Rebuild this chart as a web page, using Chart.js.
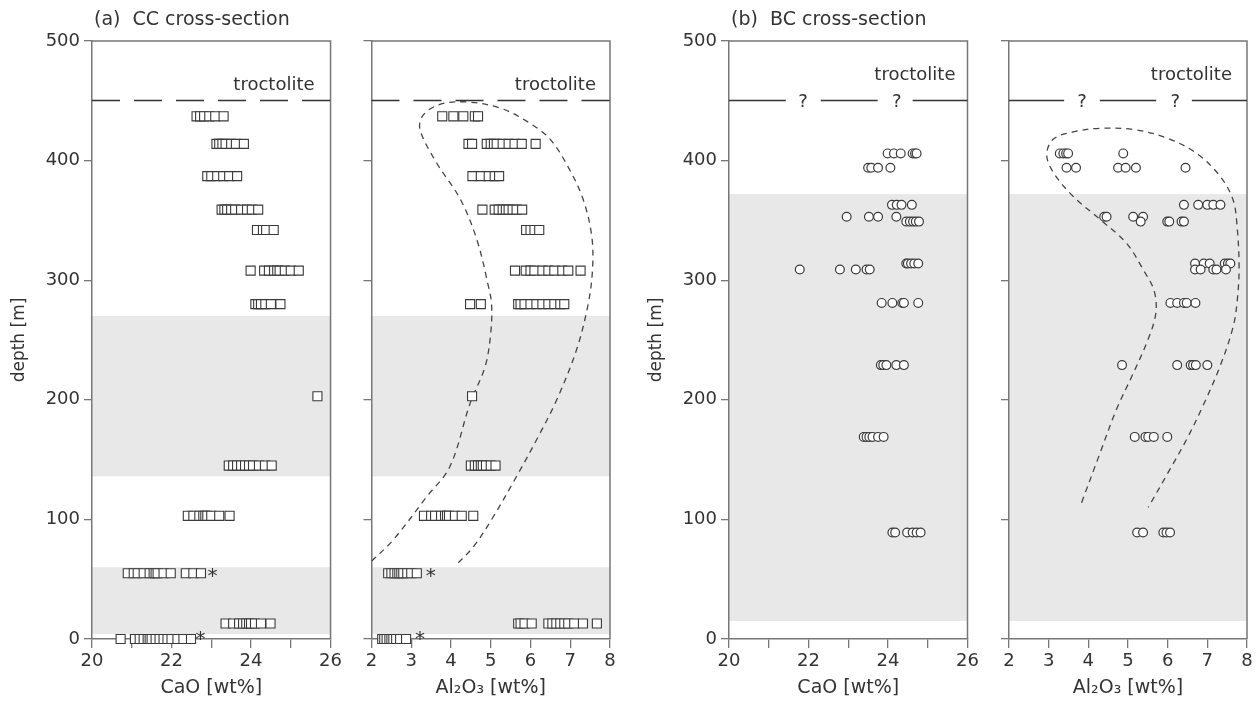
<!DOCTYPE html>
<html><head><meta charset="utf-8">
<script src="https://cdn.jsdelivr.net/npm/chart.js@4.4.1/dist/chart.umd.min.js"></script>
<style>
html,body{margin:0;padding:0;background:#fff;width:1259px;height:701px;overflow:hidden}
canvas{position:absolute;top:0}
</style></head><body>
<canvas id="c1" width="345" height="701" style="left:0px"></canvas>
<canvas id="c2" width="277" height="701" style="left:345px"></canvas>
<canvas id="c3" width="345" height="701" style="left:637px"></canvas>
<canvas id="c4" width="274" height="701" style="left:985px"></canvas>
<script>
// ---------- DATA ----------
const depthTicks = [0, 100, 200, 300, 400, 500];
const caoTicks = [20, 21, 22, 23, 24, 25, 26];
const caoTickLabels = ['20', '', '22', '', '24', '', '26'];
const alTicks = [2, 3, 4, 5, 6, 7, 8];
const alTickLabels = ['2', '3', '4', '5', '6', '7', '8'];

// CC cross-section (squares)
const ccDepths = [437, 414, 387, 359, 342, 308, 280, 203, 145, 103, 55, 13, 0];
const ccCaO = [
  [22.63, 22.72, 22.82, 22.95, 23.1, 23.31],
  [23.13, 23.2, 23.28, 23.36, 23.5, 23.62, 23.82],
  [22.9, 23.0, 23.15, 23.3, 23.45, 23.65],
  [23.26, 23.33, 23.4, 23.5, 23.6, 23.75, 23.9, 24.02, 24.18],
  [24.15, 24.3, 24.38, 24.57],
  [23.99, 24.33, 24.45, 24.58, 24.66, 24.72, 24.85, 25.0, 25.2],
  [24.11, 24.18, 24.25, 24.36, 24.5, 24.74],
  [25.67],
  [23.44, 23.55, 23.65, 23.75, 23.85, 23.95, 24.05, 24.2, 24.35, 24.52],
  [22.41, 22.55, 22.7, 22.8, 22.85, 22.9, 23.0, 23.2, 23.46],
  [20.9, 21.05, 21.15, 21.3, 21.45, 21.55, 21.6, 21.65, 21.8, 21.98, 22.36, 22.55, 22.74],
  [23.36, 23.55, 23.7, 23.8, 23.88, 23.95, 24.0, 24.1, 24.25, 24.49],
  [20.72, 21.08, 21.2, 21.3, 21.4, 21.45, 21.5, 21.6, 21.7, 21.8, 21.9, 22.0, 22.15, 22.3, 22.49]
];
const ccAl2O3 = [
  [3.78, 4.06, 4.31, 4.6, 4.68],
  [4.44, 4.53, 4.9, 5.0, 5.08, 5.15, 5.3, 5.45, 5.6, 5.78, 6.13],
  [4.54, 4.75, 4.95, 5.1, 5.21],
  [4.79, 5.1, 5.2, 5.3, 5.38, 5.45, 5.55, 5.65, 5.79],
  [5.89, 6.0, 6.1, 6.22],
  [5.61, 5.88, 6.0, 6.1, 6.3, 6.45, 6.6, 6.8, 6.95, 7.26],
  [4.48, 4.75, 5.69, 5.75, 5.85, 6.0, 6.15, 6.3, 6.45, 6.6, 6.75, 6.85],
  [4.53],
  [4.5, 4.6, 4.68, 4.75, 4.8, 4.88, 5.0, 5.12],
  [3.32, 3.5, 3.6, 3.75, 3.85, 3.9, 3.95, 4.1, 4.27, 4.56],
  [2.42, 2.5, 2.58, 2.65, 2.7, 2.75, 2.8, 2.9, 3.0, 3.14],
  [5.69, 5.75, 5.85, 6.03, 6.45, 6.55, 6.65, 6.75, 6.85, 6.95, 7.1, 7.32, 7.67],
  [2.27, 2.32, 2.38, 2.45, 2.5, 2.55, 2.62, 2.72, 2.87]
];
const ccStarDepths = [57, 4];
const ccStarCaO = [23.03, 22.73];
const ccStarAl2O3 = [3.49, 3.22];
const ccContourAl2O3 = [2.0, 2.55, 3.39, 3.97, 4.48, 4.86, 5.0, 5.02, 4.94, 4.65, 4.23, 3.64, 3.22, 3.3, 3.72, 4.4, 5.23, 5.9, 6.49, 6.99, 7.33, 7.54, 7.56, 7.45, 7.16, 6.66, 6.16, 5.65, 5.06, 4.56, 4.1];
const ccContourDepth = [65, 83, 119, 144, 197, 228, 256, 280, 295, 334, 368, 398, 426, 438, 447, 449, 444, 433, 418, 392, 367, 337, 309, 280, 242, 200, 167, 136, 102, 77, 61];
const ccShaded = [[136, 270], [4, 60]];

// BC cross-section (circles)
const bcDepths = [406, 394, 363, 353, 349, 314, 309, 281, 229, 169, 89];
const bcCaO = [
  [23.99, 24.15, 24.32, 24.62, 24.68, 24.72],
  [23.5, 23.58, 23.75, 24.06],
  [24.1, 24.22, 24.34, 24.6],
  [22.96, 23.52, 23.75, 24.21],
  [24.46, 24.55, 24.63, 24.7, 24.78],
  [24.46, 24.5, 24.58, 24.66, 24.76],
  [21.78, 22.79, 23.19, 23.46, 23.54],
  [23.84, 24.11, 24.36, 24.4, 24.76],
  [23.82, 23.88, 23.96, 24.21, 24.4],
  [23.39, 23.46, 23.53, 23.61, 23.75, 23.89],
  [24.11, 24.18, 24.48, 24.62, 24.72, 24.82]
];
const bcAl2O3 = [
  [3.28, 3.37, 3.44, 3.49, 4.88],
  [3.45, 3.69, 4.75, 4.94, 5.2, 6.45],
  [6.41, 6.77, 7.0, 7.15, 7.33],
  [4.4, 4.46, 5.13, 5.38],
  [5.32, 5.99, 6.04, 6.35, 6.41],
  [6.69, 6.91, 7.06, 7.44, 7.52, 7.58],
  [6.69, 6.83, 7.15, 7.23, 7.47],
  [6.07, 6.24, 6.41, 6.48, 6.7],
  [4.85, 6.24, 6.58, 6.64, 6.71, 7.0],
  [5.17, 5.44, 5.51, 5.65, 5.99],
  [5.23, 5.38, 5.89, 5.97, 6.06]
];
const bcContourAl2O3 = [3.83, 4.29, 4.71, 5.13, 5.5, 5.7, 5.66, 5.38, 4.96, 4.29, 3.62, 3.12, 2.95, 3.12, 3.62, 4.29, 5.13, 5.97, 6.73, 7.32, 7.65, 7.75, 7.8, 7.76, 7.65, 7.32, 6.89, 6.48, 6.06, 5.51];
const bcContourDepth = [114, 155, 192, 222, 250, 272, 291, 309, 331, 351, 370, 390, 405, 418, 424, 427, 426, 419, 406, 387, 367, 345, 312, 285, 261, 228, 195, 167, 142, 110];
const bcShaded = [[15, 372]];

const contactDepth = 451;
const bcCaOBreaks = [21.43, 22.31, 23.74, 24.62];
const bcCaOQuery = [21.86, 24.22];
const bcAl2O3Breaks = [3.39, 4.29, 5.71, 6.61];
const bcAl2O3Query = [3.84, 6.19];

// ---------- DRAWING ----------
const FONT = "'DejaVu Sans', sans-serif";
const TEXT = '#333';
const AXIS = '#777';
Chart.defaults.font.family = FONT;
Chart.defaults.color = TEXT;

function rowsToPoints(depths, rows) {
  const pts = [];
  depths.forEach((d, i) => rows[i].forEach(v => pts.push({x: v, y: d})));
  return pts;
}
function zip(xs, ys) { return xs.map((v, i) => ({x: v, y: ys[i]})); }

const decor = {
  id: 'decor',
  beforeDraw(chart, args, o) {
    const {ctx, chartArea: a, scales: {y}} = chart;
    ctx.save();
    ctx.fillStyle = '#e8e8e8';
    for (const [lo, hi] of o.bands) {
      const yt = y.getPixelForValue(hi), yb = y.getPixelForValue(lo);
      ctx.fillRect(a.left, yt, a.right - a.left, yb - yt);
    }
    ctx.restore();
  },
  afterDraw(chart, args, o) {
    const {ctx, chartArea: a, scales: {x, y}} = chart;
    ctx.save();
    // frame top/right
    ctx.strokeStyle = AXIS; ctx.lineWidth = 1.5;
    ctx.beginPath();
    ctx.moveTo(a.left, a.top); ctx.lineTo(a.right, a.top); ctx.lineTo(a.right, a.bottom);
    ctx.stroke();
    // contact line
    const yc = Math.round(y.getPixelForValue(contactDepth)) + 0.5;
    ctx.strokeStyle = '#333'; ctx.lineWidth = 1.4;
    if (o.contact === 'dashed') {
      ctx.setLineDash([28, 14]);
      ctx.beginPath(); ctx.moveTo(a.left, yc); ctx.lineTo(a.right, yc); ctx.stroke();
      ctx.setLineDash([]);
    } else {
      const b = o.breaks.map(v => x.getPixelForValue(v));
      const segs = [[a.left, b[0]], [b[1], b[2]], [b[3], a.right]];
      ctx.beginPath();
      segs.forEach(([s, e]) => { ctx.moveTo(s, yc); ctx.lineTo(e, yc); });
      ctx.stroke();
      ctx.fillStyle = TEXT; ctx.font = '18px ' + FONT;
      ctx.textAlign = 'center'; ctx.textBaseline = 'alphabetic';
      o.query.forEach(v => ctx.fillText('?', x.getPixelForValue(v), yc + 6.5));
    }
    // rock label
    ctx.fillStyle = TEXT; ctx.font = '18px ' + FONT;
    ctx.textAlign = 'right'; ctx.textBaseline = 'alphabetic';
    ctx.fillText('troctolite', a.right - o.labelInset, y.getPixelForValue(o.labelDepth));
    // asterisks
    if (o.stars) {
      ctx.font = '20px ' + FONT; ctx.textAlign = 'center';
      o.stars.x.forEach((v, i) => {
        ctx.fillText('*', x.getPixelForValue(v), y.getPixelForValue(o.stars.y[i]) + 11);
      });
    }
    // panel title
    if (o.title) {
      ctx.font = '19px ' + FONT; ctx.textAlign = 'left'; ctx.textBaseline = 'middle';
      ctx.fillText(o.title, a.left + 2, 20);
    }
    ctx.restore();
  }
};

function makePanel(id, p) {
  const canvas = document.getElementById(id);
  const datasets = [];
  if (p.contour) {
    datasets.push({
      data: p.contour, showLine: true, pointRadius: 0, borderColor: '#444',
      borderWidth: 1.3, borderDash: [6, 5], tension: 0.35, fill: false, order: 2
    });
  }
  datasets.push({
    data: p.points, pointStyle: p.marker, pointRadius: p.marker === 'rect' ? 6.4 : 4.4,
    borderColor: '#3a3a3a', backgroundColor: '#ffffff', borderWidth: p.marker === 'rect' ? 1.1 : 1.2,
    clip: false, order: 1
  });
  new Chart(canvas, {
    type: 'scatter',
    data: {datasets},
    options: {
      responsive: false, maintainAspectRatio: false, devicePixelRatio: 1,
      animation: false, events: [],
      layout: {padding: {left: 0, top: 41, right: p.padRight, bottom: 0}},
      plugins: {
        legend: {display: false}, tooltip: {enabled: false},
        decor: p.decor
      },
      scales: {
        x: {
          type: 'linear', position: 'bottom', min: p.xTicks[0], max: p.xTicks[p.xTicks.length - 1],
          afterBuildTicks: s => { s.ticks = p.xTicks.map(v => ({value: v})); },
          afterFit: s => { s.height = 62; },
          ticks: {callback: (v, i) => p.xLabels[i], font: {size: 18}, color: TEXT, padding: 3,
                  maxRotation: 0, autoSkip: false},
          grid: {drawOnChartArea: false, drawTicks: true, tickLength: 9, color: AXIS, lineWidth: 1.3},
          border: {display: true, color: AXIS, width: 1.5},
          title: {display: true, text: p.xTitle, font: {size: 19}, color: TEXT, padding: {top: 0, bottom: 2}}
        },
        y: {
          type: 'linear', position: 'left', min: 0, max: 500,
          afterBuildTicks: s => { s.ticks = depthTicks.map(v => ({value: v})); },
          afterFit: s => { s.width = p.yWidth; },
          ticks: {display: p.yLabels, callback: v => String(v), font: {size: 18}, color: TEXT, padding: 4},
          grid: {drawOnChartArea: false, drawTicks: true, tickLength: 8, color: AXIS, lineWidth: 1.3},
          border: {display: true, color: AXIS, width: 1.5},
          title: {display: p.yLabels, text: 'depth [m]', font: {size: 17}, color: TEXT, padding: {top: 9, bottom: 0}}
        }
      }
    },
    plugins: [decor]
  });
}

makePanel('c1', {
  points: rowsToPoints(ccDepths, ccCaO), marker: 'rect',
  xTicks: caoTicks, xLabels: caoTickLabels, xTitle: 'CaO [wt%]',
  yWidth: 92, yLabels: true, padRight: 14,
  decor: {bands: ccShaded, contact: 'dashed', labelDepth: 459, labelInset: 16,
          stars: {x: ccStarCaO, y: ccStarDepths}, title: '(a)  CC cross-section'}
});
makePanel('c2', {
  points: rowsToPoints(ccDepths, ccAl2O3), marker: 'rect',
  contour: zip(ccContourAl2O3, ccContourDepth),
  xTicks: alTicks, xLabels: alTickLabels, xTitle: 'Al\u2082O\u2083 [wt%]',
  yWidth: 26.5, yLabels: false, padRight: 12,
  decor: {bands: ccShaded, contact: 'dashed', labelDepth: 459, labelInset: 14,
          stars: {x: ccStarAl2O3, y: ccStarDepths}}
});
makePanel('c3', {
  points: rowsToPoints(bcDepths, bcCaO), marker: 'circle',
  xTicks: caoTicks, xLabels: caoTickLabels, xTitle: 'CaO [wt%]',
  yWidth: 92, yLabels: true, padRight: 14.5,
  decor: {bands: bcShaded, contact: 'query', breaks: bcCaOBreaks, query: bcCaOQuery,
          labelDepth: 467.5, labelInset: 12, title: '(b)  BC cross-section'}
});
makePanel('c4', {
  points: rowsToPoints(bcDepths, bcAl2O3), marker: 'circle',
  contour: zip(bcContourAl2O3, bcContourDepth),
  xTicks: alTicks, xLabels: alTickLabels, xTitle: 'Al\u2082O\u2083 [wt%]',
  yWidth: 24, yLabels: false, padRight: 12,
  decor: {bands: bcShaded, contact: 'query', breaks: bcAl2O3Breaks, query: bcAl2O3Query,
          labelDepth: 467.5, labelInset: 15}
});
</script>
</body></html>
